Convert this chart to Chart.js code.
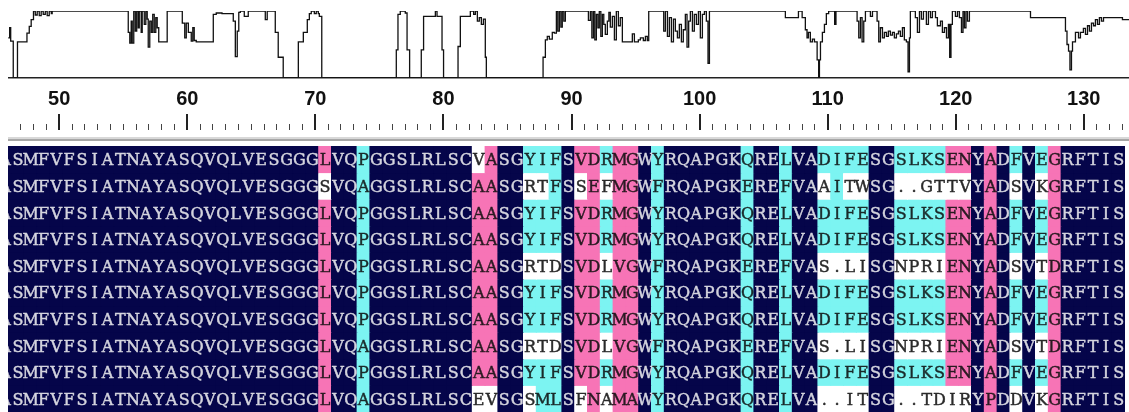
<!DOCTYPE html>
<html>
<head>
<meta charset="utf-8">
<script src="https://cdn.jsdelivr.net/npm/chart.js@4.4.1/dist/chart.umd.min.js"></script>
<style>
html, body { margin: 0; padding: 0; background: #fff; }
body { width: 1129px; height: 412px; position: relative; overflow: hidden; }
.box { position: absolute; }
#plotBox { left: 8px; top: 0; width: 1127px; height: 80px; }
#rulerBox { left: 8px; top: 86px; width: 1127px; height: 44px; }
#sep { position: absolute; left: 8px; top: 137px; width: 1121px; height: 2px; background: #d8d8d8; border-bottom: 2px solid #a6a6a6; }
#alnBox { left: 8px; top: 146px; width: 1117px; height: 266px; }
</style>
</head>
<body>
<div class="box" id="plotBox"><canvas id="plot"></canvas></div>
<div class="box" id="rulerBox"><canvas id="ruler"></canvas></div>
<div id="sep"></div>
<div class="box" id="alnBox"><canvas id="aln"></canvas></div>
<script>
// similarity profile: position (residue number) and value (%)
var simPos = [46.02,46.13,46.21,46.41,46.74,47.48,47.66,47.81,47.99,48.13,48.28,48.44,48.59,48.75,48.91,49.06,49.22,49.38,49.45,
  55.39,55.51,55.62,55.70,55.82,55.94,56.05,56.17,56.25,56.40,56.48,56.64,56.76,56.87,56.95,57.07,57.19,57.30,57.42,57.54,57.65,57.77,
  58.43,59.61,59.80,59.92,60.08,60.31,60.43,60.54,60.70,62.03,62.26,62.71,63.59,63.75,63.90,64.02,64.14,64.45,64.76,66.09,66.24,66.87,67.10,67.49,
  68.67,69.06,69.37,69.53,69.68,69.92,70.07,70.23,70.31,70.50,
  76.32,76.45,76.63,77.02,77.16,77.36,78.27,78.45,79.37,79.50,79.89,80.01,
  81.14,81.32,82.10,82.36,82.49,82.65,82.80,82.96,83.12,83.27,83.35,
  87.78,87.96,88.11,88.27,88.50,88.66,88.82,88.93,89.05,89.17,89.28,89.40,89.52,91.32,91.47,91.59,91.71,91.82,91.94,92.06,92.17,92.29,92.41,92.52,92.64,92.80,92.92,93.03,93.19,93.35,93.50,93.66,93.81,93.97,
  94.75,94.91,95.22,95.38,95.61,95.77,95.92,96.03,97.20,97.33,97.49,97.64,97.80,97.96,98.11,98.27,98.42,98.58,98.73,98.89,99.02,99.15,99.28,99.44,99.59,99.75,99.91,100.06,100.22,100.38,100.53,100.66,100.77,
  106.70,107.72,108.01,108.26,108.39,108.50,108.65,108.81,108.97,109.18,109.30,109.36,109.44,109.59,109.75,109.90,110.08,110.55,110.65,
  112.30,112.43,112.56,112.69,112.82,112.95,113.34,113.50,113.86,113.99,114.12,114.28,114.43,114.59,114.74,114.90,115.06,115.21,115.37,115.53,115.68,115.84,115.99,116.15,116.28,116.39,116.46,
  116.85,117.01,117.17,117.32,117.48,117.71,117.87,118.03,118.18,118.42,118.57,118.81,118.96,119.12,119.28,119.43,119.53,119.63,119.74,119.98,120.14,120.29,120.45,120.57,120.68,120.80,120.92,121.07,
  125.84,128.57,128.69,128.81,128.92,129.04,129.12,129.35,129.59,129.74,129.97,130.13,130.29,130.44,130.60,130.76,130.91,131.07,131.22,131.38,131.54,133.02,134.00];
var simVal = [60,75,55,0,54,67,77,87,100,94,100,93,100,95,100,93,100,96,100,
  68,52,85,52,100,70,100,75,100,68,100,80,100,88,46,85,68,95,68,90,75,54,
  100,82,60,82,68,55,75,56,54,95,97,96,85,32,70,98,100,92,100,87,100,68,31,0,
  54,68,87,96,100,96,100,96,92,0,
  42,95,100,97,42,0,42,92,100,92,42,0,
  47,92,100,95,100,85,90,80,88,31,0,
  31,57,62,58,68,67,100,70,100,76,100,85,100,86,100,60,100,57,95,75,100,62,95,80,65,85,98,76,92,57,100,78,90,54,
  66,54,57,60,56,62,56,100,70,100,62,90,54,88,70,60,80,54,72,95,46,85,100,70,95,80,100,60,95,100,85,22,100,
  90,100,90,72,60,68,54,58,54,27,0,27,54,68,80,96,100,80,100,
  85,60,90,54,85,100,92,100,85,54,75,60,68,62,70,64,68,60,66,70,62,75,57,54,9,60,100,
  90,68,100,88,100,80,100,90,100,90,78,85,68,75,60,80,31,80,100,92,100,90,68,100,75,100,85,100,
  90,70,50,40,12,40,54,68,60,68,74,65,78,70,82,78,87,80,90,85,90,87,87];

// alignment rows (residue 46 is the first, partly hidden column)
var firstResidue = 46;
var seqRows = [
  "ASMFVFSIATNAYASQVQLVESGGGLVQPGGSLRLSCVASGYIFSVDRMGWYRQAPGKQRELVADIFESGSLKSENYADFVEGRFTIS",
  "ASMFVFSIATNAYASQVQLVESGGGSVQAGGSLRLSCAASGRTFSSEFMGWFRQAPGKEREFVAAITWSG..GTTVYADSVKGRFTIS",
  "ASMFVFSIATNAYASQVQLVESGGGLVQPGGSLRLSCAASGYIFSVDRMGWYRQAPGKQRELVADIFESGSLKSENYADFVEGRFTIS",
  "ASMFVFSIATNAYASQVQLVESGGGLVQPGGSLRLSCAASGYIFSVDRMGWYRQAPGKQRELVADIFESGSLKSENYADFVEGRFTIS",
  "ASMFVFSIATNAYASQVQLVESGGGLVQPGGSLRLSCAASGRTDSVDLVGWFRQAPGKEREFVAS.LISGNPRIENYADSVTDRFTIS",
  "ASMFVFSIATNAYASQVQLVESGGGLVQPGGSLRLSCAASGYIFSVDRMGWYRQAPGKQRELVADIFESGSLKSENYADFVEGRFTIS",
  "ASMFVFSIATNAYASQVQLVESGGGLVQPGGSLRLSCAASGYIFSVDRMGWYRQAPGKQRELVADIFESGSLKSENYADFVEGRFTIS",
  "ASMFVFSIATNAYASQVQLVESGGGLVQAGGSLRLSCAASGRTDSVDLVGWFRQAPGKEREFVAS.LISGNPRIENYADSVTDRFTIS",
  "ASMFVFSIATNAYASQVQLVESGGGLVQPGGSLRLSCAASGYIFSVDRMGWYRQAPGKQRELVADIFESGSLKSENYADFVEGRFTIS",
  "ASMFVFSIATNAYASQVQLVESGGGLVQAGGSLRLSCEVSGSMLSFNAMAWYRQAPGKQRELVA..ITSG..TDIRYPDDVKGRFTIS"
];
// shading: n = identical, p = high, c = medium, w = none
var shadeRows = [
  "nnnnnnnnnn nnnnnnnnnn nnnnnpnncn nnnnnnnwpn ncccnppcpp ncnnnnnncn ncnnccccnn ccccppnpnc ncpnnnnn",
  "nnnnnnnnnn nnnnnnnnnn nnnnnwnncn nnnnnnnppn nwwcnwpwpp ncnnnnnncn ncnnwcwwnn wwwwwwnpnw nwpnnnnn",
  "nnnnnnnnnn nnnnnnnnnn nnnnnpnncn nnnnnnnppn ncccnppcpp ncnnnnnncn ncnnccccnn ccccppnpnc ncpnnnnn",
  "nnnnnnnnnn nnnnnnnnnn nnnnnpnncn nnnnnnnppn ncccnppcpp ncnnnnnncn ncnnccccnn ccccppnpnc ncpnnnnn",
  "nnnnnnnnnn nnnnnnnnnn nnnnnpnncn nnnnnnnppn nwwwnppwpp ncnnnnnncn ncnnwwwwnn wwwwppnpnw nwpnnnnn",
  "nnnnnnnnnn nnnnnnnnnn nnnnnpnncn nnnnnnnppn ncccnppcpp ncnnnnnncn ncnnccccnn ccccppnpnc ncpnnnnn",
  "nnnnnnnnnn nnnnnnnnnn nnnnnpnncn nnnnnnnppn ncccnppcpp ncnnnnnncn ncnnccccnn ccccppnpnc ncpnnnnn",
  "nnnnnnnnnn nnnnnnnnnn nnnnnpnncn nnnnnnnppn nwwwnppwpp ncnnnnnncn ncnnwwwwnn wwwwppnpnw nwpnnnnn",
  "nnnnnnnnnn nnnnnnnnnn nnnnnpnncn nnnnnnnppn ncccnppcpp ncnnnnnncn ncnnccccnn ccccppnpnc ncpnnnnn",
  "nnnnnnnnnn nnnnnnnnnn nnnnnpnncn nnnnnnnwwn nwccnwpwpp ncnnnnnncn ncnnwwwwnn wwwwwwnpnw nwpnnnnn"
];
var shadeColor = { n: '#05054a', p: '#f774b6', c: '#7cf4f2', w: '#ffffff' };
var textColor = { n: '#d4d4de', p: '#2a1a22', c: '#1a2a2a', w: '#2a2a2a' };

Chart.defaults.animation = false;
Chart.defaults.responsive = true;
Chart.defaults.maintainAspectRatio = false;
Chart.defaults.plugins.legend.display = false;
Chart.defaults.plugins.tooltip.enabled = false;

// top: similarity plot
new Chart(document.getElementById('plot'), {
  type: 'line',
  data: {
    datasets: [{
      data: simPos.map(function (x, i) { return { x: x, y: simVal[i] }; }),
      stepped: true,
      borderColor: '#111',
      borderWidth: 1.3,
      pointRadius: 0,
      fill: false
    }]
  },
  options: {
    layout: { padding: { top: 11, bottom: 2, left: 0, right: 0 } },
    scales: {
      x: { type: 'linear', min: 46, max: 134, bounds: 'data',
           ticks: { display: false }, grid: { display: false, drawTicks: false },
           border: { display: true, color: '#222', width: 1.5 } },
      y: { min: 0, max: 100, display: false }
    }
  }
});

// ruler with position numbers
function isMajor(c) { return c.tick && c.tick.value % 10 === 0; }
new Chart(document.getElementById('ruler'), {
  type: 'line',
  data: { datasets: [] },
  options: {
    layout: { padding: 0 },
    scales: {
      x: { type: 'linear', position: 'top', min: 46, max: 134, bounds: 'data',
           afterFit: function (scale) { scale.height = 38; scale.paddingLeft = 0; scale.paddingRight = 0; },
           ticks: { stepSize: 1, autoSkip: false, maxRotation: 0, padding: 0, color: '#111',
                    font: { family: 'Liberation Sans', size: 20, weight: 'bold', lineHeight: 1.5 },
                    callback: function (v) { return v % 10 === 0 ? String(v) : ''; } },
           grid: { drawOnChartArea: true, drawTicks: true, tickLength: 10,
                   color: function (c) { return c.tick && c.tick.value < 47 ? 'rgba(0,0,0,0)' : (isMajor(c) ? '#222' : '#444'); },
                   lineWidth: function (c) { return isMajor(c) ? 2 : 1; },
                   tickColor: function (c) { return isMajor(c) ? '#222' : 'rgba(0,0,0,0)'; },
                   tickWidth: 2 },
           border: { display: false } },
      y: { min: 0, max: 1, display: false }
    }
  }
});

// alignment letters drawn on top of the shaded cells
var cellText = {
  id: 'cellText',
  afterDatasetsDraw: function (chart) {
    var ctx = chart.ctx;
    ctx.save();
    ctx.font = '16px "DejaVu Serif"';
    ctx.textAlign = 'center';
    ctx.textBaseline = 'middle';
    ctx.lineWidth = 0.45;
    chart.data.datasets.forEach(function (ds, i) {
      var seq = seqRows[i], shade = shadeRows[i].replace(/ /g, '');
      chart.getDatasetMeta(i).data.forEach(function (bar, k) {
        var p = bar.getProps(['x', 'y', 'base'], true);
        var ty = (p.y + p.base) / 2 + 2;
        ctx.fillStyle = textColor[shade[k]];
        ctx.strokeStyle = textColor[shade[k]];
        ctx.fillText(seq[k], p.x, ty);
        ctx.strokeText(seq[k], p.x, ty);
      });
    });
    ctx.restore();
  }
};

new Chart(document.getElementById('aln'), {
  type: 'bar',
  data: {
    datasets: seqRows.map(function (seq, i) {
      var shade = shadeRows[i].replace(/ /g, '');
      return {
        data: seq.split('').map(function (ch, k) { return { x: firstResidue + k, y: [i, i + 1] }; }),
        backgroundColor: shade.split('').map(function (s) { return shadeColor[s]; }),
        borderWidth: 0,
        grouped: false,
        barPercentage: 1,
        categoryPercentage: 1,
        inflateAmount: 0.5
      };
    })
  },
  options: {
    layout: { padding: 0 },
    scales: {
      x: { type: 'linear', min: 46.227, max: 133.49, bounds: 'data', offset: false, display: false },
      y: { type: 'linear', min: 0, max: 10, reverse: true, display: false }
    }
  },
  plugins: [cellText]
});
</script>
</body>
</html>
